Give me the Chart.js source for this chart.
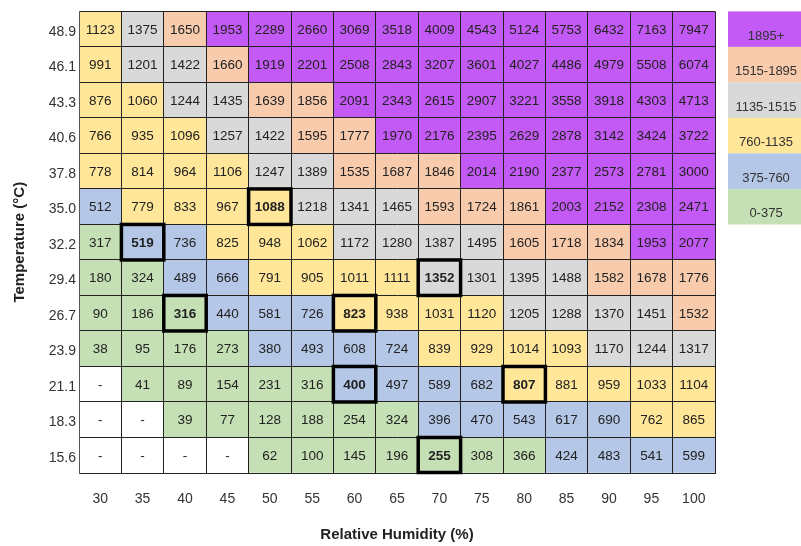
<!DOCTYPE html>
<html>
<head>
<meta charset="utf-8">
<script src="https://cdn.jsdelivr.net/npm/chart.js@4.4.0/dist/chart.umd.min.js"></script>
<style>
  html, body { margin: 0; padding: 0; background: #fff; }
</style>
</head>
<body>
<canvas id="heat" width="801" height="546"></canvas>
<script>
// x categories (relative humidity %)
const humidity = ['30','35','40','45','50','55','60','65','70','75','80','85','90','95','100'];
// y categories, top row first (temperature C)
const temps = ['48.9','46.1','43.3','40.6','37.8','35.0','32.2','29.4','26.7','23.9','21.1','18.3','15.6'];

// cell values, one array per temperature row (top to bottom), null = "-"
const r489 = [1123,1375,1650,1953,2289,2660,3069,3518,4009,4543,5124,5753,6432,7163,7947];
const r461 = [991,1201,1422,1660,1919,2201,2508,2843,3207,3601,4027,4486,4979,5508,6074];
const r433 = [876,1060,1244,1435,1639,1856,2091,2343,2615,2907,3221,3558,3918,4303,4713];
const r406 = [766,935,1096,1257,1422,1595,1777,1970,2176,2395,2629,2878,3142,3424,3722];
const r378 = [778,814,964,1106,1247,1389,1535,1687,1846,2014,2190,2377,2573,2781,3000];
const r350 = [512,779,833,967,1088,1218,1341,1465,1593,1724,1861,2003,2152,2308,2471];
const r322 = [317,519,736,825,948,1062,1172,1280,1387,1495,1605,1718,1834,1953,2077];
const r294 = [180,324,489,666,791,905,1011,1111,1352,1301,1395,1488,1582,1678,1776];
const r267 = [90,186,316,440,581,726,823,938,1031,1120,1205,1288,1370,1451,1532];
const r239 = [38,95,176,273,380,493,608,724,839,929,1014,1093,1170,1244,1317];
const r211 = [null,41,89,154,231,316,400,497,589,682,807,881,959,1033,1104];
const r183 = [null,null,39,77,128,188,254,324,396,470,543,617,690,762,865];
const r156 = [null,null,null,null,62,100,145,196,255,308,366,424,483,541,599];
const rows = [r489,r461,r433,r406,r378,r350,r322,r294,r267,r239,r211,r183,r156];

// highlighted cells [temperature, humidity]
const boxed = [['35.0','50'],['32.2','35'],['29.4','70'],['26.7','40'],['26.7','60'],['21.1','60'],['21.1','80'],['15.6','70']];

// legend bins
const binLabels = ['1895+','1515-1895','1135-1515','760-1135','375-760','0-375'];
const binLower = [1895,1515,1135,760,375,0];
const binColors = ['#c45af5','#f8cbad','#d9d9d9','#ffe699','#b4c7e7','#c5e0b4'];

function colorFor(v){
  if (v == null) return '#ffffff';
  for (let i = 0; i < binLower.length; i++) {
    if (v >= binLower[i]) return binColors[i];
  }
  return '#ffffff';
}

// bottom row first so stacking builds upward
const datasets = [];
for (let r = rows.length - 1; r >= 0; r--) {
  datasets.push({
    label: temps[r],
    data: humidity.map(() => 1),
    backgroundColor: rows[r].map(colorFor),
    borderWidth: 0,
    barPercentage: 1,
    categoryPercentage: 1
  });
}

const cellText = {
  id: 'cellText',
  afterDraw(chart){
    const ctx = chart.ctx;
    ctx.save();
    ctx.textAlign = 'center';
    ctx.textBaseline = 'middle';
    chart.data.datasets.forEach((ds, di) => {
      const r = rows.length - 1 - di;
      const meta = chart.getDatasetMeta(di);
      meta.data.forEach((bar, ci) => {
        const p = bar.getProps(['x','y','base','width'], true);
        const v = rows[r][ci];
        const isBox = boxed.some(b => b[0] === temps[r] && b[1] === humidity[ci]);
        ctx.fillStyle = '#222';
        ctx.font = (isBox ? 'bold ' : '') + '13.5px "Liberation Sans", Arial, sans-serif';
        ctx.fillText(v == null ? '-' : String(v), p.x, (p.y + p.base) / 2 + 1);
        if (isBox) {
          ctx.lineWidth = 3.5;
          ctx.strokeStyle = '#000';
          ctx.strokeRect(p.x - p.width / 2, p.y, p.width, p.base - p.y);
        }
      });
    });
    ctx.restore();
  }
};

const binLegend = {
  id: 'binLegend',
  afterDraw(chart){
    const ctx = chart.ctx;
    const area = chart.chartArea;
    const rowH = (area.bottom - area.top) / rows.length;
    const left = area.right + 13;
    ctx.save();
    ctx.textAlign = 'center';
    ctx.textBaseline = 'middle';
    ctx.font = '13px "Liberation Sans", Arial, sans-serif';
    binLabels.forEach((lab, i) => {
      const top = area.top + i * rowH;
      ctx.fillStyle = binColors[i];
      ctx.fillRect(left, top, 100, rowH);
      ctx.fillStyle = '#333';
      ctx.fillText(lab, left + 38, top + rowH * 0.7);
    });
    ctx.restore();
  }
};

new Chart(document.getElementById('heat'), {
  type: 'bar',
  data: { labels: humidity, datasets: datasets },
  options: {
    responsive: false,
    animation: false,
    layout: { padding: { top: 8, right: 86, left: 0, bottom: 0 } },
    plugins: { legend: { display: false }, tooltip: { enabled: false } },
    scales: {
      x: {
        stacked: true,
        offset: true,
        grid: { offset: true, color: '#222', lineWidth: 1, drawTicks: false, z: 1 },
        border: { display: true, color: '#222', z: 1 },
        ticks: { color: '#333', padding: 18, font: { family: '"Liberation Sans", Arial, sans-serif', size: 14 } },
        title: {
          display: true,
          text: 'Relative Humidity (%)',
          color: '#222',
          padding: { top: 0, bottom: 2 },
          font: { family: '"Liberation Sans", Arial, sans-serif', size: 15, weight: 'bold' }
        },
        afterFit(scale){ scale.height = 73; }
      },
      y: {
        stacked: true,
        min: 0,
        max: rows.length,
        grid: { color: '#222', lineWidth: 1, drawTicks: false, z: 1 },
        border: { display: true, color: '#555', z: 1 },
        ticks: {
          stepSize: 1,
          color: '#333',
          padding: 3,
          labelOffset: -15,
          font: { family: '"Liberation Sans", Arial, sans-serif', size: 14 },
          callback: (val) => (val < rows.length ? temps[rows.length - 1 - val] : '')
        },
        title: {
          display: true,
          text: 'Temperature (°C)',
          color: '#222',
          padding: { top: 11, bottom: 0 },
          font: { family: '"Liberation Sans", Arial, sans-serif', size: 15, weight: 'bold' }
        },
        afterFit(scale){ scale.width = 79; }
      }
    }
  },
  plugins: [cellText, binLegend]
});
</script>
</body>
</html>
